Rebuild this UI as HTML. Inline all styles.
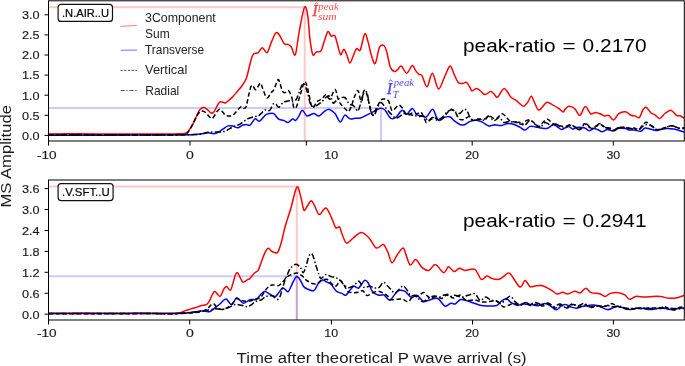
<!DOCTYPE html>
<html><head><meta charset="utf-8"><style>
html,body{margin:0;padding:0;background:#fff;}
svg{display:block;-webkit-font-smoothing:antialiased;font-family:"Liberation Sans", sans-serif;}
</style></head><body>
<svg style="opacity:0.999" width="685" height="366" viewBox="0 0 685 366">
<rect width="685" height="366" fill="#fff"/>
<clipPath id="c1"><rect x="48.5" y="0.8" width="635.8" height="140.2"/></clipPath>
<g clip-path="url(#c1)">
<path d="M48.5,7.2H304.7V141.0" fill="none" stroke="#ffc8c8" stroke-width="2"/>
<path d="M48.5,107.9H381.0V141.0" fill="none" stroke="#ccccff" stroke-width="2" style="mix-blend-mode:multiply"/>
<path d="M48.5,134.0C53.8,134.0 69.8,133.8 80.0,133.8C90.2,133.8 100.0,134.1 110.0,134.1C120.0,134.1 130.0,133.9 140.0,133.9C150.0,133.9 163.3,134.0 170.0,134.0C176.7,134.0 177.7,133.8 180.0,133.7C182.3,133.6 182.9,133.6 184.0,133.4C185.1,133.2 185.6,133.3 186.4,132.8C187.2,132.3 187.8,131.7 188.7,130.6C189.6,129.5 190.6,127.6 191.6,126.0C192.6,124.4 193.4,122.9 194.5,120.8C195.6,118.7 197.0,115.2 197.9,113.3C198.8,111.4 199.2,110.3 200.2,109.3C201.1,108.3 202.4,107.4 203.6,107.4C204.8,107.4 206.0,108.5 207.1,109.3C208.2,110.1 209.2,111.5 210.0,112.2C210.8,112.9 211.4,113.5 212.2,113.3C212.9,113.1 213.6,112.4 214.5,111.1C215.4,109.8 216.5,106.8 217.4,105.3C218.3,103.8 218.8,102.6 219.7,102.1C220.6,101.6 221.6,101.9 222.6,102.1C223.6,102.2 224.3,103.3 225.4,103.0C226.5,102.7 227.6,101.3 228.9,100.2C230.2,99.1 231.7,97.9 233.0,96.5C234.3,95.1 235.4,93.7 237.0,91.8C238.6,89.9 240.8,87.5 242.4,85.2C244.0,82.9 245.1,81.5 246.4,78.0C247.7,74.5 248.9,67.9 250.0,64.0C251.1,60.1 251.9,56.5 253.0,54.7C254.1,52.9 255.4,53.6 256.3,53.2C257.2,52.8 257.5,53.4 258.5,52.5C259.5,51.6 260.9,47.7 262.4,47.7C263.8,47.7 265.7,53.5 267.2,52.5C268.7,51.5 270.1,44.9 271.6,41.6C273.1,38.3 274.7,33.9 276.0,32.8C277.3,31.7 277.9,33.2 279.3,35.0C280.7,36.8 282.9,42.2 284.3,43.8C285.8,45.4 286.8,43.9 288.0,44.4C289.2,44.9 290.1,45.3 291.3,47.0C292.5,48.7 294.0,57.1 295.3,54.7C296.6,52.3 297.5,40.7 299.0,32.8C300.5,24.9 302.9,10.4 304.4,7.5C305.8,4.6 306.8,10.0 307.7,15.3C308.6,20.6 309.1,32.8 310.0,39.4C310.9,46.0 311.7,52.6 312.8,54.7C313.9,56.8 315.1,52.5 316.5,51.9C317.9,51.3 319.6,52.7 320.9,51.0C322.2,49.3 323.0,44.8 324.2,41.6C325.4,38.4 326.7,32.6 327.9,31.7C329.1,30.8 330.1,35.5 331.2,36.1C332.3,36.7 333.7,34.2 334.7,35.5C335.7,36.8 336.3,40.6 337.3,43.8C338.3,47.0 339.5,53.8 340.6,54.7C341.7,55.6 342.8,49.1 343.9,49.3C345.0,49.5 346.1,53.5 347.1,55.8C348.1,58.1 348.9,63.2 350.0,63.0C351.1,62.8 352.6,57.1 353.7,54.7C354.8,52.3 355.5,49.4 356.6,48.6C357.7,47.8 359.0,52.4 360.3,49.9C361.6,47.4 363.4,35.3 364.7,33.9C366.0,32.5 366.9,38.1 368.0,41.6C369.1,45.1 370.0,51.1 371.2,54.7C372.4,58.4 373.8,64.7 375.2,63.5C376.6,62.3 378.0,50.4 379.4,47.4C380.8,44.4 382.1,44.7 383.3,45.2C384.5,45.8 385.2,47.1 386.4,50.7C387.6,54.4 389.0,63.6 390.3,67.1C391.6,70.6 393.0,71.1 394.3,71.5C395.6,71.9 396.8,70.2 398.0,69.3C399.2,68.4 399.9,65.3 401.3,66.0C402.8,66.7 404.9,73.3 406.7,73.2C408.5,73.1 410.7,66.0 412.2,65.5C413.7,65.0 414.4,68.9 415.5,70.4C416.6,71.9 417.7,73.4 418.8,74.3C419.9,75.2 420.7,73.7 422.1,75.8C423.5,77.9 425.4,87.2 427.1,86.8C428.8,86.4 430.5,72.8 432.4,73.2C434.3,73.6 436.4,88.6 438.5,89.0C440.6,89.4 443.1,79.6 445.0,75.8C446.9,72.0 448.6,66.4 450.1,66.0C451.6,65.6 452.5,70.9 453.8,73.6C455.1,76.3 456.7,80.8 458.2,82.4C459.7,84.1 461.2,83.5 462.6,83.5C464.0,83.5 465.3,81.7 466.5,82.4C467.7,83.1 469.1,86.1 470.0,87.5C470.9,88.9 471.0,90.8 472.0,91.0C473.0,91.2 474.8,88.5 476.1,88.4C477.4,88.3 478.5,89.5 480.0,90.5C481.5,91.5 483.2,94.4 485.0,94.6C486.8,94.8 489.0,91.7 490.5,91.6C492.0,91.5 492.9,93.0 494.0,94.0C495.1,95.0 496.1,97.6 497.3,97.3C498.5,97.0 499.9,93.5 501.0,92.0C502.1,90.5 503.1,88.4 504.2,88.4C505.3,88.4 506.4,90.5 507.5,92.0C508.6,93.5 509.5,95.8 511.0,97.3C512.5,98.8 514.4,99.2 516.4,100.7C518.4,102.2 521.4,106.0 523.3,106.2C525.2,106.4 526.7,103.4 528.0,101.7C529.3,100.0 530.2,96.1 531.3,96.3C532.4,96.5 533.4,100.5 534.6,102.8C535.8,105.1 537.0,109.3 538.3,110.0C539.6,110.7 540.8,108.5 542.2,107.2C543.6,105.9 545.0,102.8 546.6,102.4C548.2,102.0 550.1,103.6 552.1,104.6C554.1,105.6 556.8,107.1 558.6,108.3C560.4,109.5 561.9,111.8 563.0,112.0C564.1,112.2 564.0,110.4 565.0,109.4C566.0,108.5 567.1,106.4 568.8,106.3C570.4,106.2 573.1,107.3 574.9,108.8C576.7,110.3 578.1,115.8 579.8,115.4C581.5,115.0 583.5,106.9 585.3,106.6C587.1,106.3 589.0,112.8 590.7,113.8C592.4,114.8 594.0,112.3 595.7,112.4C597.4,112.5 599.6,113.7 601.1,114.3C602.6,114.9 603.7,115.8 605.0,116.0C606.3,116.2 607.3,114.7 608.8,115.4C610.2,116.1 612.0,120.3 613.7,120.0C615.4,119.7 616.8,115.0 618.8,113.6C620.8,112.2 623.4,111.5 625.5,111.8C627.6,112.1 629.5,114.6 631.2,115.3C632.9,116.0 634.1,115.7 635.5,116.1C636.9,116.5 638.1,118.6 639.3,117.6C640.5,116.6 641.7,111.7 642.8,110.0C643.9,108.3 644.6,106.7 646.0,107.2C647.4,107.7 649.6,111.7 651.1,113.0C652.6,114.3 653.5,113.9 654.9,114.8C656.3,115.7 658.0,118.8 659.8,118.5C661.6,118.2 663.6,114.3 665.5,113.0C667.4,111.7 669.5,110.0 671.3,110.4C673.1,110.8 675.0,114.4 676.5,115.3C678.0,116.2 678.8,115.3 680.1,115.8C681.4,116.3 683.8,118.0 684.5,118.5" fill="none" stroke="#ff0000" stroke-width="1.5" stroke-linejoin="round"/>
<path d="M48.5,135.2C57.1,135.2 83.1,135.2 100.0,135.2C116.9,135.2 134.2,135.2 150.0,135.1C165.8,135.0 185.4,135.0 195.0,134.6C204.6,134.2 204.7,132.9 207.8,132.8C210.9,132.7 211.9,134.0 213.8,133.8C215.7,133.7 217.4,132.8 219.0,131.9C220.6,131.0 222.1,129.6 223.6,128.6C225.1,127.6 226.5,126.4 228.0,125.9C229.5,125.5 231.0,125.6 232.6,125.9C234.2,126.2 236.2,127.9 237.8,127.8C239.4,127.7 240.9,125.9 242.3,125.3C243.7,124.7 244.8,124.4 246.1,124.4C247.4,124.4 248.5,126.1 250.0,125.2C251.5,124.3 253.4,119.6 255.0,118.9C256.6,118.2 257.7,121.8 259.5,121.1C261.3,120.4 264.0,116.0 265.6,114.8C267.2,113.5 267.6,113.8 269.0,113.6C270.4,113.4 272.2,112.7 273.8,113.6C275.4,114.5 276.7,117.8 278.3,118.9C279.9,120.0 282.0,119.8 283.6,120.4C285.2,121.0 286.6,122.8 288.1,122.6C289.6,122.3 291.4,119.2 292.6,118.9C293.8,118.6 294.5,120.9 295.5,120.5C296.5,120.1 297.5,118.3 298.6,116.6C299.8,114.9 301.0,110.4 302.4,110.3C303.8,110.2 305.0,115.4 306.9,115.9C308.8,116.5 311.7,113.6 313.7,113.6C315.7,113.6 317.2,116.3 319.0,115.9C320.8,115.5 322.8,112.5 324.5,111.4C326.2,110.3 327.8,109.0 329.5,109.4C331.2,109.8 333.2,111.5 335.0,113.6C336.8,115.7 338.7,121.7 340.3,121.9C341.9,122.2 343.2,115.6 344.8,115.1C346.4,114.6 348.3,118.4 350.0,118.9C351.7,119.4 353.2,118.4 355.0,118.3C356.8,118.2 358.7,118.6 360.6,118.1C362.5,117.6 364.6,116.1 366.6,115.1C368.6,114.1 370.3,113.2 372.6,112.1C374.9,111.0 378.2,108.7 380.2,108.3C382.2,107.9 382.9,108.2 384.7,109.8C386.4,111.4 388.8,116.8 390.7,118.1C392.6,119.4 394.0,118.7 395.9,117.4C397.8,116.1 400.2,110.8 402.0,110.3C403.8,109.8 404.8,114.7 406.5,114.4C408.2,114.1 410.6,108.6 412.3,108.6C414.0,108.6 415.2,113.3 416.8,114.6C418.4,115.8 420.4,115.7 422.0,116.1C423.6,116.5 424.7,117.9 426.5,116.8C428.3,115.7 431.0,109.3 432.6,109.3C434.2,109.3 435.2,114.9 436.3,116.8C437.4,118.7 438.1,120.5 439.3,120.6C440.6,120.7 442.1,118.2 443.8,117.6C445.6,117.0 447.9,116.2 449.8,116.8C451.7,117.4 453.0,120.0 455.1,121.4C457.2,122.8 460.1,125.1 462.6,125.1C465.1,125.1 467.9,122.2 470.2,121.4C472.5,120.6 474.2,120.2 476.2,120.3C478.2,120.4 480.1,121.2 482.2,122.1C484.3,123.0 486.8,125.5 488.9,125.9C491.0,126.3 493.1,124.8 495.0,124.7C496.9,124.7 498.3,125.8 500.5,125.6C502.7,125.4 505.8,123.8 508.1,123.6C510.4,123.4 512.2,123.9 514.2,124.5C516.2,125.1 518.4,126.5 520.2,127.4C522.0,128.3 523.5,130.2 525.1,130.0C526.7,129.8 528.3,126.9 530.0,126.4C531.7,125.9 533.7,126.6 535.5,126.9C537.3,127.2 539.0,127.8 541.0,128.0C543.0,128.2 545.6,128.8 547.6,128.2C549.6,127.6 551.4,125.0 553.0,124.7C554.6,124.4 555.5,125.7 557.0,126.5C558.5,127.3 559.9,129.6 561.8,129.6C563.7,129.6 566.5,126.5 568.3,126.4C570.1,126.3 571.2,128.9 572.7,129.1C574.2,129.3 575.0,127.6 577.0,127.4C579.0,127.2 582.7,127.5 584.7,128.0C586.7,128.6 587.6,130.6 589.1,130.7C590.6,130.8 592.5,128.7 594.0,128.5C595.5,128.3 596.6,129.2 598.0,129.8C599.4,130.4 600.7,131.8 602.2,131.8C603.7,131.8 605.6,129.8 607.2,129.6C608.9,129.4 610.4,130.9 612.1,130.7C613.8,130.5 616.1,128.9 617.6,128.5C619.1,128.1 619.5,128.2 621.0,128.2C622.5,128.2 625.0,128.2 626.3,128.5C627.6,128.8 627.3,129.8 628.6,130.0C629.9,130.2 632.0,129.8 634.0,130.0C636.0,130.2 638.9,131.6 640.7,131.3C642.5,131.0 643.5,128.4 645.0,128.0C646.5,127.6 648.2,128.6 650.0,129.0C651.8,129.4 654.2,130.3 656.0,130.4C657.8,130.5 659.2,129.8 661.0,129.5C662.8,129.2 664.8,128.6 666.9,128.5C669.0,128.4 671.3,128.7 673.5,129.1C675.7,129.5 678.2,130.2 680.0,130.7C681.8,131.2 683.8,131.9 684.5,132.2" fill="none" stroke="#0000ff" stroke-width="1.5" stroke-linejoin="round"/>
<path d="M48.5,134.9C57.1,134.9 83.1,134.8 100.0,134.8C116.9,134.8 136.0,134.9 150.0,134.9C164.0,134.9 177.9,134.7 184.0,134.6C190.1,134.5 185.4,135.1 186.4,134.2C187.4,133.3 188.8,131.2 189.9,129.4C191.1,127.6 192.2,125.4 193.3,123.1C194.5,120.8 195.7,117.5 196.8,115.6C198.0,113.7 199.2,112.3 200.2,111.6C201.1,110.8 201.6,110.9 202.5,111.1C203.4,111.3 204.8,111.8 205.9,112.8C207.1,113.8 208.4,115.8 209.4,116.8C210.4,117.8 211.3,118.8 212.2,118.5C213.1,118.2 214.1,116.2 215.0,115.0C215.9,113.8 216.6,112.0 217.4,111.1C218.2,110.1 218.8,109.1 219.7,109.3C220.6,109.5 221.6,111.0 222.6,112.0C223.6,113.0 224.3,114.4 225.4,115.1C226.5,115.8 227.7,115.9 229.0,115.9C230.3,115.9 231.0,116.6 233.0,115.1C235.0,113.6 239.0,107.9 240.8,106.8C242.6,105.7 242.9,108.3 243.8,108.3C244.7,108.3 245.3,108.8 246.1,106.7C246.9,104.7 247.7,99.4 248.5,96.0C249.3,92.6 250.2,88.2 251.0,86.5C251.8,84.8 252.2,85.5 253.0,86.0C253.8,86.5 254.7,90.2 255.9,89.7C257.1,89.2 259.2,83.5 260.3,83.2C261.4,82.9 261.4,85.5 262.5,88.0C263.6,90.5 265.4,97.2 266.8,97.9C268.2,98.7 270.0,93.9 271.2,92.5C272.4,91.1 272.8,91.8 273.9,89.7C275.0,87.6 276.9,81.2 277.8,79.9C278.7,78.6 278.7,80.1 279.5,82.0C280.3,83.9 281.7,89.7 282.7,91.4C283.7,93.2 284.5,92.6 285.5,92.5C286.5,92.4 287.6,89.9 288.7,90.8C289.8,91.7 291.1,95.2 291.9,97.9C292.7,100.6 292.9,105.1 293.6,106.7C294.3,108.3 295.1,109.2 296.2,107.3C297.3,105.3 298.8,99.3 300.2,95.0C301.6,90.7 303.4,82.5 304.7,81.7C306.0,80.9 306.8,85.7 308.0,90.0C309.2,94.3 310.8,105.6 312.2,107.6C313.6,109.6 315.2,103.3 316.5,102.0C317.8,100.7 318.8,100.8 320.0,100.0C321.2,99.2 322.5,98.0 323.5,97.1C324.5,96.2 324.9,94.5 326.0,94.8C327.1,95.1 328.5,99.9 330.0,99.0C331.5,98.1 333.6,89.4 335.0,89.5C336.4,89.6 337.2,97.1 338.3,99.7C339.4,102.3 340.3,103.5 341.6,105.1C342.9,106.7 344.7,108.4 345.9,109.5C347.1,110.6 347.7,112.1 348.6,111.5C349.5,110.9 350.6,108.2 351.5,106.0C352.4,103.8 352.9,100.6 354.0,98.0C355.1,95.4 356.8,90.2 357.9,90.4C358.9,90.6 359.6,97.2 360.3,99.0C361.0,100.8 361.2,102.2 361.8,101.0C362.4,99.8 362.9,93.1 363.6,91.5C364.3,89.9 365.1,89.6 366.0,91.5C366.9,93.4 367.9,99.0 369.0,103.0C370.1,107.0 371.5,114.7 372.7,115.5C373.9,116.3 375.0,110.5 376.4,108.0C377.8,105.5 379.6,101.7 380.9,100.2C382.2,98.7 382.8,98.9 384.0,99.0C385.2,99.1 387.0,98.9 388.4,100.8C389.8,102.7 390.6,109.8 392.2,110.6C393.8,111.3 396.6,105.8 398.2,105.3C399.8,104.8 400.5,106.0 402.0,107.6C403.5,109.2 405.5,114.2 407.2,115.1C408.9,116.0 410.4,113.2 412.0,113.0C413.6,112.8 415.5,114.1 417.0,114.0C418.5,113.9 419.7,111.2 421.1,112.3C422.5,113.4 424.3,118.7 425.2,120.4C426.1,122.1 425.7,122.6 426.5,122.5C427.3,122.4 428.5,120.8 430.0,120.0C431.5,119.2 433.8,117.8 435.4,117.9C437.0,118.0 438.0,120.7 439.5,120.4C441.0,120.2 443.2,117.8 444.6,116.4C446.0,115.1 446.5,113.5 447.7,112.3C448.9,111.1 450.4,109.0 451.8,109.2C453.2,109.4 454.7,111.7 455.9,113.3C457.1,114.9 457.6,117.9 459.0,118.9C460.4,119.9 462.3,119.8 464.0,119.4C465.7,119.0 467.8,116.2 469.2,116.4C470.6,116.6 471.1,120.0 472.5,120.4C473.9,120.8 475.4,119.1 477.3,118.9C479.2,118.7 481.9,119.9 484.0,119.4C486.1,118.9 487.8,116.2 489.7,116.1C491.6,116.0 493.6,119.4 495.7,119.0C497.8,118.6 500.2,114.0 502.1,113.8C504.0,113.6 505.5,116.8 507.0,118.1C508.5,119.4 509.4,120.8 510.9,121.4C512.4,122.1 514.3,121.5 516.0,122.0C517.7,122.5 519.7,124.4 521.3,124.2C522.9,124.0 524.2,121.6 525.7,120.9C527.2,120.2 528.5,119.4 530.0,119.8C531.5,120.2 532.9,121.9 534.4,123.1C535.9,124.3 537.3,127.1 538.8,126.9C540.3,126.7 541.7,123.3 543.2,122.0C544.7,120.7 546.1,119.0 547.6,119.2C549.1,119.4 550.6,122.2 552.0,123.1C553.4,124.0 554.7,124.0 556.0,124.5C557.3,125.0 558.5,125.7 560.0,126.0C561.5,126.3 563.2,126.7 565.0,126.5C566.8,126.3 568.8,124.6 570.5,124.7C572.2,124.8 573.4,126.2 575.0,127.0C576.6,127.8 578.8,130.1 580.3,129.6C581.8,129.1 582.9,124.3 584.2,123.8C585.5,123.3 586.6,125.6 588.0,126.4C589.4,127.2 590.9,128.6 592.4,128.5C593.9,128.4 595.3,126.4 596.8,125.8C598.2,125.2 599.6,124.3 601.1,124.7C602.6,125.1 604.4,127.3 606.0,128.0C607.6,128.7 609.6,128.7 611.0,129.1C612.4,129.5 613.0,130.9 614.3,130.7C615.6,130.5 617.2,128.6 618.8,128.0C620.4,127.4 622.5,126.8 624.1,126.9C625.7,127.0 627.0,128.3 628.6,128.5C630.2,128.7 632.3,127.8 634.0,128.0C635.7,128.2 637.6,130.0 639.0,129.6C640.4,129.2 641.1,126.5 642.3,125.3C643.5,124.1 644.9,122.5 646.1,122.3C647.3,122.1 648.3,123.4 649.4,124.2C650.5,125.0 651.4,126.0 652.7,126.9C654.0,127.8 655.6,129.3 657.1,129.6C658.6,129.9 660.4,128.9 662.0,128.5C663.6,128.1 665.4,127.4 666.9,126.9C668.4,126.5 669.8,125.8 671.3,125.8C672.8,125.8 674.2,126.5 675.7,126.9C677.2,127.4 678.5,128.4 680.0,128.5C681.5,128.6 683.8,127.6 684.5,127.4" fill="none" stroke="#000" stroke-width="1.5" stroke-dasharray="4.5,2.5" stroke-linejoin="round"/>
<path d="M48.5,135.0C57.1,135.0 83.1,135.1 100.0,135.1C116.9,135.1 134.2,135.1 150.0,135.0C165.8,134.9 185.2,135.0 195.0,134.6C204.8,134.2 203.7,132.8 208.5,132.3C213.3,131.8 219.6,132.5 223.6,131.6C227.6,130.7 229.9,128.3 232.6,127.1C235.3,125.8 237.5,125.5 240.0,124.1C242.5,122.7 245.0,120.2 247.5,118.9C250.0,117.6 253.2,117.0 255.0,116.5C256.8,116.0 257.4,116.3 258.5,115.8C259.6,115.2 260.4,114.2 261.4,113.2C262.4,112.2 263.7,110.4 264.7,110.0C265.7,109.6 266.5,110.8 267.4,110.8C268.3,110.8 269.1,111.2 270.1,110.0C271.1,108.8 272.4,104.9 273.4,103.9C274.4,102.9 275.1,103.7 276.0,104.2C276.9,104.8 277.6,107.5 278.8,107.2C280.0,106.9 281.8,103.3 283.2,102.3C284.6,101.3 285.9,101.5 287.0,101.2C288.1,100.9 289.0,100.6 289.8,100.7C290.6,100.8 290.9,101.8 291.8,101.8C292.7,101.8 294.1,101.7 295.0,101.0C295.9,100.3 295.7,100.7 297.1,97.8C298.5,94.9 301.4,84.2 303.2,83.5C305.0,82.8 306.4,89.8 307.7,93.3C308.9,96.8 309.4,102.5 310.7,104.6C311.9,106.7 313.4,106.5 315.2,106.1C316.9,105.7 319.2,103.9 321.2,102.3C323.2,100.7 325.6,97.2 327.2,96.3C328.8,95.4 329.5,95.9 330.5,97.0C331.5,98.1 332.4,102.3 333.2,103.1C333.9,103.9 334.0,102.5 335.0,101.8C336.0,101.0 337.8,99.3 339.4,98.6C341.0,97.9 343.2,96.6 344.8,97.5C346.4,98.4 347.9,102.8 349.2,104.0C350.5,105.2 351.4,104.3 352.5,105.0C353.6,105.7 354.6,107.0 355.5,108.0C356.4,109.0 357.1,111.8 357.9,111.1C358.7,110.4 359.6,106.7 360.5,104.0C361.4,101.3 362.0,97.0 363.0,95.0C364.0,93.0 365.8,91.2 366.7,92.0C367.6,92.8 367.8,96.7 368.5,100.0C369.2,103.3 370.0,109.2 371.0,111.7C372.0,114.2 373.2,115.7 374.3,115.0C375.4,114.3 376.5,109.4 377.6,107.3C378.7,105.2 379.7,102.6 380.9,102.5C382.1,102.4 383.1,104.7 384.7,106.5C386.3,108.3 388.7,111.7 390.7,113.6C392.7,115.5 394.4,118.1 396.7,118.1C398.9,118.1 401.7,114.1 404.2,113.6C406.7,113.1 409.9,114.7 411.7,115.1C413.5,115.5 413.8,115.6 415.0,115.8C416.2,116.0 417.6,116.3 419.1,116.4C420.6,116.5 422.7,115.7 424.2,116.4C425.7,117.1 426.9,120.2 428.3,120.4C429.7,120.6 431.0,117.5 432.4,117.4C433.8,117.3 435.0,119.8 436.5,119.9C438.0,120.0 439.9,119.2 441.6,117.9C443.3,116.6 445.0,113.7 446.7,112.3C448.4,110.9 450.3,109.7 451.8,109.7C453.3,109.7 454.5,111.7 455.9,112.3C457.3,112.9 458.6,113.8 460.0,113.3C461.4,112.8 462.8,109.5 464.0,109.2C465.2,108.9 466.1,109.8 467.1,111.2C468.1,112.6 469.0,115.9 470.2,117.4C471.4,118.9 472.6,120.2 474.3,120.4C476.0,120.7 478.6,118.9 480.4,118.9C482.2,118.9 483.7,120.9 485.0,120.4C486.3,119.9 486.7,116.1 488.2,116.1C489.7,116.1 492.3,120.3 494.2,120.6C496.1,120.8 497.8,117.3 499.4,117.6C501.0,117.9 502.2,121.9 503.8,122.5C505.4,123.1 507.2,121.4 509.0,121.4C510.8,121.4 512.8,122.3 514.7,122.5C516.6,122.7 518.6,122.0 520.2,122.5C521.9,123.0 523.0,125.7 524.6,125.3C526.2,124.9 528.2,120.4 530.0,120.3C531.8,120.2 533.7,123.7 535.5,124.7C537.3,125.7 539.4,126.8 541.0,126.4C542.6,126.0 543.8,122.7 545.4,122.5C547.0,122.3 549.0,125.0 550.8,125.3C552.6,125.6 554.6,123.9 556.3,124.2C557.9,124.5 559.2,126.3 560.7,126.9C562.2,127.5 563.5,128.3 565.0,128.0C566.5,127.7 567.9,125.6 569.4,125.3C570.9,125.0 572.2,125.7 573.8,126.4C575.4,127.1 577.7,129.7 579.2,129.6C580.7,129.5 581.7,126.7 583.0,125.8C584.3,124.9 585.5,123.8 586.9,124.2C588.3,124.7 589.8,128.1 591.3,128.5C592.8,128.9 594.2,127.2 595.7,126.4C597.2,125.6 598.5,123.4 600.0,123.6C601.5,123.8 602.8,126.7 604.4,127.4C606.0,128.1 608.4,127.5 609.9,128.0C611.4,128.6 611.9,130.7 613.2,130.7C614.5,130.7 616.0,128.6 617.6,128.0C619.2,127.5 621.3,127.4 623.1,127.4C624.9,127.4 626.8,127.7 628.6,128.0C630.4,128.3 632.2,128.9 634.0,129.1C635.8,129.3 638.0,129.7 639.6,129.1C641.2,128.5 642.5,126.0 643.9,125.3C645.3,124.6 646.8,124.5 648.3,124.7C649.8,124.9 651.4,125.6 652.7,126.4C654.0,127.2 654.5,129.2 656.0,129.6C657.5,130.0 659.7,129.5 661.5,129.1C663.3,128.7 665.1,127.5 666.9,126.9C668.7,126.4 670.6,125.6 672.4,125.8C674.2,126.0 675.9,127.5 677.9,128.0C679.9,128.4 683.4,128.4 684.5,128.5" fill="none" stroke="#000" stroke-width="1.5" stroke-dasharray="6,2.2,1.5,2.2" stroke-linejoin="round"/>
</g>
<rect x="48.5" y="0.8" width="635.8" height="140.2" fill="none" stroke="#000" stroke-width="1"/>
<line x1="44.5" y1="135.4" x2="48.5" y2="135.4" stroke="#000" stroke-width="1"/>
<text x="39.6" y="139.7" font-size="11.6" text-anchor="end" fill="#1a1a1a" textLength="17.6" lengthAdjust="spacingAndGlyphs" stroke="#1a1a1a" stroke-width="0.15">0.0</text>
<line x1="44.5" y1="115.3" x2="48.5" y2="115.3" stroke="#000" stroke-width="1"/>
<text x="39.6" y="119.6" font-size="11.6" text-anchor="end" fill="#1a1a1a" textLength="17.6" lengthAdjust="spacingAndGlyphs" stroke="#1a1a1a" stroke-width="0.15">0.5</text>
<line x1="44.5" y1="95.2" x2="48.5" y2="95.2" stroke="#000" stroke-width="1"/>
<text x="39.6" y="99.5" font-size="11.6" text-anchor="end" fill="#1a1a1a" textLength="17.6" lengthAdjust="spacingAndGlyphs" stroke="#1a1a1a" stroke-width="0.15">1.0</text>
<line x1="44.5" y1="75.1" x2="48.5" y2="75.1" stroke="#000" stroke-width="1"/>
<text x="39.6" y="79.4" font-size="11.6" text-anchor="end" fill="#1a1a1a" textLength="17.6" lengthAdjust="spacingAndGlyphs" stroke="#1a1a1a" stroke-width="0.15">1.5</text>
<line x1="44.5" y1="55.0" x2="48.5" y2="55.0" stroke="#000" stroke-width="1"/>
<text x="39.6" y="59.3" font-size="11.6" text-anchor="end" fill="#1a1a1a" textLength="17.6" lengthAdjust="spacingAndGlyphs" stroke="#1a1a1a" stroke-width="0.15">2.0</text>
<line x1="44.5" y1="34.9" x2="48.5" y2="34.9" stroke="#000" stroke-width="1"/>
<text x="39.6" y="39.2" font-size="11.6" text-anchor="end" fill="#1a1a1a" textLength="17.6" lengthAdjust="spacingAndGlyphs" stroke="#1a1a1a" stroke-width="0.15">2.5</text>
<line x1="44.5" y1="14.8" x2="48.5" y2="14.8" stroke="#000" stroke-width="1"/>
<text x="39.6" y="19.1" font-size="11.6" text-anchor="end" fill="#1a1a1a" textLength="17.6" lengthAdjust="spacingAndGlyphs" stroke="#1a1a1a" stroke-width="0.15">3.0</text>
<line x1="48.5" y1="141.0" x2="48.5" y2="145.5" stroke="#000" stroke-width="1"/>
<line x1="190.0" y1="141.0" x2="190.0" y2="145.5" stroke="#000" stroke-width="1"/>
<line x1="306.4" y1="141.0" x2="306.4" y2="145.5" stroke="#000" stroke-width="1"/>
<line x1="472.2" y1="141.0" x2="472.2" y2="145.5" stroke="#000" stroke-width="1"/>
<line x1="613.3" y1="141.0" x2="613.3" y2="145.5" stroke="#000" stroke-width="1"/>
<text x="46.8" y="158.6" font-size="11.6" text-anchor="middle" fill="#1a1a1a" textLength="19.6" lengthAdjust="spacingAndGlyphs" stroke="#1a1a1a" stroke-width="0.15">-10</text>
<text x="189.9" y="158.6" font-size="11.6" text-anchor="middle" fill="#1a1a1a" textLength="7.8" lengthAdjust="spacingAndGlyphs" stroke="#1a1a1a" stroke-width="0.15">0</text>
<text x="331.2" y="158.6" font-size="11.6" text-anchor="middle" fill="#1a1a1a" textLength="13.8" lengthAdjust="spacingAndGlyphs" stroke="#1a1a1a" stroke-width="0.15">10</text>
<text x="472.1" y="158.6" font-size="11.6" text-anchor="middle" fill="#1a1a1a" textLength="13.8" lengthAdjust="spacingAndGlyphs" stroke="#1a1a1a" stroke-width="0.15">20</text>
<text x="613.3" y="158.6" font-size="11.6" text-anchor="middle" fill="#1a1a1a" textLength="13.8" lengthAdjust="spacingAndGlyphs" stroke="#1a1a1a" stroke-width="0.15">30</text>
<rect x="58.1" y="4.4" width="54.4" height="17" rx="3" ry="3" fill="#fff" stroke="#111" stroke-width="1.2"/>
<text x="62.0" y="16.7" font-size="11.5" text-anchor="start" fill="#000" textLength="47.0" lengthAdjust="spacingAndGlyphs" stroke="#000" stroke-width="0.2">.N.AIR..U</text>
<text x="463.0" y="52.4" font-size="18.7" text-anchor="start" fill="#000" textLength="92.5" lengthAdjust="spacingAndGlyphs">peak-ratio</text>
<text x="562.6" y="52.4" font-size="18.7" text-anchor="start" fill="#000" textLength="13.2" lengthAdjust="spacingAndGlyphs">=</text>
<text x="582.6" y="52.4" font-size="18.7" text-anchor="start" fill="#000" textLength="64.0" lengthAdjust="spacingAndGlyphs">0.2170</text>
<clipPath id="c2"><rect x="48.5" y="180.0" width="635.8" height="140.0"/></clipPath>
<g clip-path="url(#c2)">
<path d="M48.5,186.5H296.8V320.0" fill="none" stroke="#ffc8c8" stroke-width="2"/>
<path d="M48.5,276.3H296.8V320.0" fill="none" stroke="#ccccff" stroke-width="2" style="mix-blend-mode:multiply"/>
<path d="M48.5,313.2C53.8,313.2 69.8,313.1 80.0,313.1C90.2,313.1 100.0,313.3 110.0,313.3C120.0,313.3 130.0,313.1 140.0,313.1C150.0,313.1 163.3,313.2 170.0,313.2C176.7,313.1 177.4,313.2 180.0,312.8C182.6,312.4 183.7,311.2 185.5,310.6C187.3,310.0 189.4,309.4 191.0,308.9C192.6,308.4 193.7,308.3 195.3,307.8C196.9,307.3 199.0,306.2 200.8,305.7C202.6,305.2 204.8,305.4 206.3,304.6C207.8,303.8 208.6,302.4 209.6,300.7C210.6,299.0 211.4,296.2 212.3,294.7C213.2,293.2 213.7,291.3 215.0,291.6C216.3,291.9 218.5,296.8 220.0,296.4C221.5,296.0 222.7,290.8 223.8,289.2C224.9,287.6 225.4,286.3 226.5,286.5C227.6,286.7 229.3,290.9 230.4,290.3C231.5,289.7 232.2,285.3 233.1,282.7C233.9,280.1 234.8,276.1 235.5,274.5C236.2,272.9 236.8,272.5 237.5,272.8C238.2,273.1 238.6,274.6 239.5,276.1C240.4,277.7 241.6,281.6 243.0,282.1C244.4,282.7 246.7,280.0 247.9,279.4C249.1,278.8 248.9,279.6 250.0,278.5C251.1,277.4 253.0,274.4 254.4,273.0C255.8,271.6 257.1,271.9 258.2,270.3C259.3,268.7 259.9,265.8 260.9,263.1C261.9,260.5 263.3,256.6 264.2,254.4C265.1,252.2 265.6,251.0 266.4,250.0C267.1,249.0 267.9,248.1 268.7,248.3C269.5,248.5 270.4,250.4 271.4,251.1C272.4,251.8 273.4,252.3 274.5,252.5C275.6,252.7 276.6,253.8 277.7,252.3C278.8,250.8 279.7,247.9 281.0,243.5C282.3,239.1 283.7,231.8 285.3,226.0C286.9,220.2 288.9,215.0 290.8,208.5C292.7,202.0 295.2,189.0 296.9,187.0C298.5,185.0 299.5,192.6 300.7,196.4C301.9,200.2 302.8,208.3 303.9,210.0C305.0,211.7 306.0,207.8 307.2,206.3C308.4,204.8 309.9,200.8 311.2,200.8C312.5,200.8 313.5,204.0 314.9,206.3C316.2,208.6 317.5,214.3 319.3,214.6C321.1,214.9 323.8,207.6 325.8,208.0C327.8,208.4 329.7,213.9 331.3,217.2C332.9,220.5 334.3,226.0 335.7,227.7C337.1,229.3 338.5,225.9 339.6,227.1C340.7,228.3 341.1,232.0 342.3,234.7C343.5,237.4 344.8,242.5 346.6,243.1C348.4,243.7 350.7,239.8 353.2,238.0C355.7,236.2 358.8,232.5 361.5,232.6C364.2,232.7 367.2,236.1 369.6,238.7C372.1,241.2 374.0,246.9 376.2,247.9C378.4,248.9 381.3,244.8 382.8,244.6C384.3,244.3 384.1,245.1 385.0,246.4C385.9,247.7 386.8,249.8 388.0,252.5C389.2,255.2 390.5,262.4 392.0,262.8C393.5,263.2 395.2,257.7 397.0,255.2C398.8,252.7 401.5,248.2 403.0,248.0C404.5,247.8 404.6,251.3 405.8,254.1C407.0,256.9 408.6,264.1 410.2,265.0C411.8,265.9 413.7,259.2 415.7,259.6C417.7,260.1 420.0,265.9 422.2,267.7C424.4,269.5 426.6,271.0 428.8,270.5C431.0,270.0 432.9,264.2 435.4,264.6C437.9,265.0 441.5,272.3 443.7,272.7C445.9,273.1 446.8,267.0 448.5,266.8C450.2,266.6 452.2,271.4 454.0,271.6C455.8,271.9 457.6,268.5 459.4,268.3C461.2,268.1 462.3,270.3 464.9,270.5C467.5,270.7 472.1,267.9 474.8,269.4C477.5,270.9 479.3,278.2 481.3,279.3C483.3,280.4 485.0,276.1 486.8,276.0C488.6,275.9 490.3,278.1 492.3,278.6C494.3,279.2 496.9,279.7 498.9,279.3C500.9,278.9 502.5,277.0 504.3,276.0C506.1,275.0 507.2,271.6 509.8,273.4C512.4,275.2 517.2,285.7 519.7,286.9C522.2,288.1 523.4,280.6 525.1,280.5C526.8,280.4 528.3,285.7 529.9,286.6C531.5,287.5 533.0,286.2 534.9,286.0C536.8,285.8 539.4,285.2 541.4,285.5C543.4,285.8 545.1,286.8 546.9,287.7C548.7,288.6 550.7,289.8 552.4,290.9C554.1,291.9 555.6,293.8 557.3,294.0C559.0,294.2 561.1,292.3 562.8,292.3C564.5,292.3 565.7,294.1 567.7,293.9C569.7,293.7 572.7,291.4 574.8,291.2C576.9,291.0 578.5,293.4 580.3,292.9C582.1,292.4 584.0,288.2 585.8,288.2C587.6,288.1 588.9,291.7 591.2,292.6C593.5,293.5 597.3,293.2 599.6,293.8C601.9,294.4 603.3,296.5 605.1,296.4C606.9,296.3 608.3,294.0 610.5,293.4C612.7,292.8 615.8,292.4 618.2,292.7C620.6,292.9 622.9,293.8 624.8,294.9C626.7,296.0 627.8,299.1 629.6,299.3C631.4,299.6 633.2,296.8 635.7,296.4C638.2,296.0 641.6,297.1 644.5,297.1C647.4,297.1 650.5,296.5 653.2,296.4C655.9,296.3 658.3,296.3 660.9,296.6C663.5,296.9 665.9,298.0 668.6,298.2C671.3,298.4 674.6,298.2 677.3,297.7C679.9,297.2 683.3,295.7 684.5,295.3" fill="none" stroke="#ff0000" stroke-width="1.5" stroke-linejoin="round"/>
<path d="M48.5,313.6C57.1,313.6 83.1,313.6 100.0,313.6C116.9,313.6 136.7,313.6 150.0,313.5C163.3,313.4 171.3,313.7 180.0,313.3C188.7,312.9 197.0,311.4 201.9,311.1C206.8,310.8 207.4,312.2 209.6,311.7C211.8,311.1 213.2,309.2 215.0,307.8C216.8,306.4 218.7,305.0 220.5,303.5C222.3,302.0 224.2,298.7 226.0,298.9C227.8,299.1 229.7,304.8 231.5,304.6C233.3,304.5 234.9,298.2 236.9,298.0C238.9,297.8 241.3,302.9 243.5,303.2C245.7,303.5 248.1,300.2 250.0,299.6C251.9,299.0 253.7,299.9 255.0,299.6C256.3,299.3 256.1,299.4 257.7,298.0C259.2,296.6 262.3,292.1 264.3,291.5C266.3,290.9 268.0,293.5 269.8,294.3C271.6,295.1 273.8,296.6 275.2,296.5C276.6,296.4 277.0,294.9 278.2,293.5C279.4,292.1 281.3,288.6 282.5,288.0C283.7,287.4 284.6,289.2 285.5,289.8C286.4,290.4 287.3,292.2 288.2,291.6C289.1,291.0 290.1,288.4 291.1,286.3C292.1,284.2 293.4,280.9 294.4,279.3C295.3,277.7 296.0,276.6 296.8,276.5C297.6,276.4 298.4,277.3 299.3,278.5C300.2,279.7 301.4,282.5 302.2,283.9C303.0,285.3 303.2,286.2 304.2,287.1C305.1,288.0 306.6,288.6 307.9,289.2C309.2,289.8 310.9,290.7 312.0,290.8C313.1,290.9 313.5,291.2 314.6,290.0C315.7,288.8 317.1,285.0 318.4,283.4C319.7,281.8 320.9,280.4 322.3,280.1C323.7,279.9 325.2,281.2 326.6,281.9C328.1,282.6 329.4,282.6 331.0,284.1C332.6,285.7 334.6,289.6 336.4,291.2C338.2,292.8 340.3,292.7 341.9,293.4C343.4,294.1 344.4,295.8 345.7,295.3C347.0,294.9 348.2,292.2 349.6,290.7C351.0,289.2 352.4,286.7 353.9,286.3C355.3,285.9 357.0,288.6 358.3,288.2C359.6,287.8 360.5,285.4 361.6,284.1C362.7,282.8 363.8,280.5 364.9,280.3C366.0,280.1 366.9,281.1 368.2,283.0C369.5,284.9 371.0,289.8 372.6,291.8C374.2,293.8 376.2,294.5 378.0,295.0C379.8,295.5 382.3,294.7 383.5,294.8C384.7,294.9 383.9,294.9 385.0,295.8C386.1,296.7 388.2,300.5 389.9,300.2C391.5,299.9 393.4,295.8 394.9,294.2C396.4,292.6 397.1,291.0 398.7,290.5C400.3,290.0 402.6,290.1 404.7,291.2C406.8,292.3 409.3,296.7 411.3,297.4C413.3,298.1 414.8,294.6 416.8,295.3C418.8,296.0 421.3,300.5 423.3,301.3C425.3,302.1 427.0,300.7 428.8,300.2C430.6,299.7 432.7,298.7 434.3,298.5C435.9,298.3 436.9,297.8 438.7,299.1C440.5,300.4 443.2,305.5 445.2,306.2C447.2,306.9 449.0,303.6 450.7,303.2C452.4,302.8 453.5,304.6 455.1,304.0C456.7,303.4 458.5,300.0 460.5,299.5C462.5,299.0 464.8,300.2 467.0,300.8C469.2,301.4 471.2,302.2 473.6,303.0C476.0,303.8 477.5,305.0 481.3,305.4C485.1,305.8 493.3,306.1 496.6,305.4C499.9,304.7 499.4,302.5 501.0,301.4C502.6,300.3 504.9,298.6 506.5,298.8C508.1,299.0 509.0,301.3 510.8,302.4C512.6,303.5 515.6,305.1 517.4,305.4C519.2,305.7 520.5,304.3 521.8,304.1C523.1,303.9 523.5,304.0 525.0,304.1C526.5,304.2 528.8,304.3 531.0,304.6C533.2,304.9 535.8,305.9 538.1,305.7C540.4,305.5 542.7,303.5 544.7,303.5C546.7,303.5 548.1,304.4 550.0,305.5C551.9,306.6 554.4,309.7 556.2,309.8C558.0,309.9 559.5,306.9 561.0,306.0C562.5,305.1 563.8,304.4 565.5,304.6C567.2,304.8 569.2,306.4 571.0,307.0C572.8,307.6 574.7,308.3 576.5,308.2C578.3,308.1 580.0,307.0 582.0,306.5C584.0,306.0 586.5,305.6 588.5,305.4C590.5,305.1 592.1,304.8 594.0,305.0C595.9,305.2 597.8,305.7 600.0,306.5C602.2,307.3 605.2,309.4 607.3,309.6C609.4,309.9 610.9,308.5 612.7,308.0C614.5,307.5 616.4,306.5 618.2,306.5C620.0,306.5 621.8,307.5 623.6,308.0C625.4,308.5 627.4,309.5 629.2,309.6C631.0,309.7 632.8,308.8 634.6,308.5C636.4,308.2 638.3,307.9 640.1,308.0C641.9,308.1 643.7,308.7 645.5,309.0C647.3,309.3 649.2,309.7 651.0,309.6C652.8,309.5 654.7,308.8 656.5,308.5C658.3,308.2 660.2,307.9 662.0,308.0C663.8,308.1 665.7,308.7 667.5,309.0C669.3,309.3 671.2,309.7 673.0,309.6C674.8,309.5 676.6,308.8 678.5,308.5C680.4,308.2 683.5,308.1 684.5,308.0" fill="none" stroke="#0000ff" stroke-width="1.5" stroke-linejoin="round"/>
<path d="M48.5,313.7C57.1,313.7 83.1,313.7 100.0,313.7C116.9,313.7 136.7,313.6 150.0,313.6C163.3,313.6 171.7,313.8 180.0,313.5C188.3,313.2 195.5,312.8 200.0,312.0C204.5,311.2 205.1,310.2 207.0,309.0C208.9,307.8 210.2,305.4 211.4,304.6C212.6,303.8 213.0,303.4 214.0,304.0C215.0,304.6 216.2,307.1 217.6,308.0C219.0,308.9 220.6,309.5 222.3,309.4C224.0,309.3 226.2,308.2 227.8,307.4C229.4,306.6 230.5,306.1 231.9,304.6C233.3,303.1 234.7,299.3 236.0,298.5C237.3,297.7 238.4,299.6 240.0,300.0C241.6,300.4 243.7,301.1 245.5,301.2C247.3,301.3 249.4,301.1 251.0,300.8C252.6,300.5 253.3,299.9 255.0,299.3C256.7,298.7 259.1,298.7 261.0,297.0C262.9,295.3 264.6,290.9 266.4,288.9C268.2,286.9 269.9,285.6 271.9,285.0C273.9,284.4 276.7,286.1 278.5,285.6C280.3,285.1 281.4,283.3 282.8,281.8C284.2,280.3 285.7,278.0 287.2,276.8C288.7,275.6 290.0,275.2 291.6,274.6C293.2,274.0 295.3,272.7 297.1,273.0C298.9,273.3 301.1,275.2 302.6,276.3C304.1,277.4 304.4,278.8 305.9,279.9C307.4,281.0 309.6,282.5 311.4,283.2C313.2,283.9 315.2,284.2 316.8,283.8C318.4,283.4 319.6,281.2 321.2,280.5C322.8,279.8 325.0,279.0 326.5,279.3C328.0,279.6 329.0,281.1 330.3,282.2C331.6,283.3 333.0,285.5 334.1,286.0C335.2,286.5 336.0,286.1 337.0,285.1C338.0,284.2 338.9,280.7 339.9,280.3C340.9,279.9 341.9,281.7 342.8,283.0C343.8,284.3 344.7,286.4 345.6,287.9C346.6,289.4 347.2,291.0 348.5,291.8C349.8,292.6 351.6,292.6 353.2,292.7C354.8,292.8 356.4,292.5 358.0,292.2C359.6,291.9 361.3,290.2 362.8,290.8C364.3,291.4 365.5,295.3 367.1,295.6C368.7,295.9 370.8,293.5 372.6,292.8C374.4,292.1 376.3,291.2 378.0,291.2C379.7,291.2 381.4,292.2 383.0,293.0C384.6,293.8 386.6,295.0 387.9,296.1C389.1,297.2 389.1,299.1 390.5,299.6C391.9,300.2 394.0,299.5 396.0,299.4C398.0,299.3 400.5,298.7 402.5,299.1C404.5,299.5 406.2,302.2 408.0,301.8C409.8,301.4 411.4,297.3 413.0,296.4C414.6,295.5 416.1,297.0 417.8,296.4C419.5,295.8 421.7,292.6 423.3,292.5C424.9,292.4 425.9,294.9 427.2,295.8C428.5,296.7 429.4,297.9 431.0,298.0C432.6,298.1 434.7,296.3 436.5,296.4C438.3,296.5 440.1,298.9 441.9,298.5C443.7,298.1 445.6,294.3 447.4,294.2C449.2,294.1 450.8,297.8 452.9,298.0C455.0,298.2 457.8,294.9 460.0,295.3C462.2,295.7 463.6,299.5 466.0,300.3C468.4,301.1 472.1,299.7 474.7,300.0C477.2,300.3 479.1,301.6 481.3,301.9C483.5,302.2 485.6,302.1 487.8,301.9C490.0,301.7 492.6,300.7 494.4,300.8C496.2,300.9 497.3,301.4 498.8,302.4C500.3,303.4 501.6,306.3 503.2,306.8C504.8,307.3 506.8,305.8 508.6,305.2C510.4,304.6 512.3,303.4 514.1,303.5C515.9,303.6 517.8,305.8 519.6,305.7C521.4,305.6 523.1,303.0 525.0,303.0C526.9,303.0 529.0,305.3 531.0,305.5C533.0,305.7 535.0,303.9 537.0,304.0C539.0,304.1 541.0,306.0 543.0,306.0C545.0,306.0 547.0,303.7 549.0,304.0C551.0,304.3 553.0,307.8 555.0,308.0C557.0,308.2 559.0,305.0 561.0,305.0C563.0,305.0 565.0,308.1 567.0,308.0C569.0,307.9 571.0,304.7 573.0,304.5C575.0,304.3 577.0,306.9 579.0,307.0C581.0,307.1 583.0,304.9 585.0,305.0C587.0,305.1 589.0,307.4 591.0,307.5C593.0,307.6 595.0,305.7 597.0,305.5C599.0,305.3 601.3,306.4 603.0,306.5C604.7,306.6 605.6,306.3 607.0,305.8C608.4,305.3 609.7,303.7 611.2,303.6C612.7,303.6 614.4,304.9 616.0,305.5C617.6,306.1 618.9,306.8 621.0,307.4C623.1,308.0 625.8,309.0 628.5,309.2C631.2,309.4 634.6,308.7 637.0,308.6C639.4,308.5 640.8,308.7 643.0,308.6C645.2,308.5 647.8,308.1 650.0,308.0C652.2,307.9 654.0,308.1 656.0,308.0C658.0,307.9 660.6,307.7 662.0,307.4C663.4,307.1 663.5,305.9 664.5,306.1C665.5,306.3 666.4,308.0 668.0,308.6C669.6,309.2 672.6,310.1 674.4,309.9C676.2,309.7 677.3,307.9 679.0,307.4C680.7,306.9 683.6,306.9 684.5,306.8" fill="none" stroke="#000" stroke-width="1.5" stroke-dasharray="4.5,2.5" stroke-linejoin="round"/>
<path d="M48.5,313.6C57.1,313.6 83.1,313.6 100.0,313.6C116.9,313.6 136.7,313.6 150.0,313.6C163.3,313.6 170.2,314.1 180.0,313.5C189.8,312.9 202.8,310.8 208.7,310.0C214.6,309.2 213.2,308.8 215.5,308.7C217.8,308.6 220.1,309.6 222.3,309.4C224.6,309.2 226.9,308.2 229.0,307.4C231.1,306.6 232.6,305.0 234.7,304.6C236.8,304.2 239.4,305.0 241.5,305.3C243.6,305.6 245.2,306.9 247.0,306.7C248.8,306.5 251.1,304.9 252.4,304.0C253.7,303.1 253.6,302.2 255.0,301.5C256.4,300.8 259.2,300.8 261.0,300.0C262.8,299.2 264.2,297.2 266.0,296.5C267.8,295.8 269.9,295.4 272.0,295.8C274.1,296.2 276.7,300.5 278.5,299.1C280.3,297.7 281.7,290.4 282.8,287.2C283.9,284.0 284.2,282.4 285.0,280.1C285.8,277.8 286.9,275.5 287.8,273.5C288.7,271.5 289.1,269.7 290.5,268.1C291.9,266.6 294.4,264.3 296.0,264.2C297.6,264.1 299.2,266.1 300.4,267.5C301.6,268.9 302.3,272.9 303.2,272.8C304.1,272.7 305.0,269.4 305.9,266.8C306.8,264.2 307.8,259.2 308.6,257.0C309.4,254.8 310.1,253.9 310.8,253.7C311.5,253.5 312.2,254.1 313.0,255.9C313.8,257.7 314.8,261.8 315.7,264.7C316.6,267.6 317.7,271.1 318.5,273.4C319.3,275.7 319.9,277.9 320.7,278.5C321.4,279.1 322.1,277.7 323.0,277.0C323.9,276.3 324.8,274.6 326.1,274.5C327.4,274.4 329.5,276.1 331.0,276.6C332.5,277.1 333.6,276.8 335.1,277.4C336.6,278.0 338.5,279.1 339.9,280.3C341.3,281.5 342.4,283.4 343.7,284.6C345.0,285.8 346.2,287.1 347.5,287.5C348.8,287.9 350.0,287.6 351.3,287.0C352.6,286.4 353.9,285.1 355.2,284.1C356.5,283.2 357.6,280.8 359.0,281.3C360.4,281.9 362.1,286.6 363.8,287.4C365.5,288.2 367.5,286.2 369.3,286.3C371.1,286.4 373.1,287.7 374.7,287.9C376.3,288.1 377.6,288.3 379.1,287.4C380.6,286.5 382.0,282.6 383.5,282.4C385.0,282.2 386.6,285.1 387.9,286.3C389.1,287.5 389.8,288.4 391.0,289.5C392.2,290.6 393.5,293.2 394.9,293.1C396.3,293.1 397.8,290.4 399.2,289.2C400.6,288.0 401.8,285.9 403.1,286.0C404.4,286.1 405.6,288.2 406.9,289.8C408.2,291.4 409.4,294.9 410.7,295.8C412.0,296.7 413.4,294.8 414.8,295.3C416.2,295.9 417.5,298.0 418.9,299.1C420.3,300.2 421.6,302.0 423.3,301.8C425.0,301.6 427.0,299.0 428.8,298.0C430.6,297.0 432.5,296.1 434.3,295.9C436.1,295.7 438.0,297.2 439.8,297.0C441.6,296.8 443.4,294.8 445.2,294.7C447.0,294.6 449.1,296.3 450.7,296.4C452.3,296.5 453.2,295.2 455.0,295.3C456.8,295.4 459.4,297.0 461.6,297.0C463.8,297.0 465.9,295.9 468.1,295.3C470.3,294.8 472.7,292.9 474.7,293.7C476.7,294.5 478.4,299.8 480.2,300.3C482.0,300.9 483.9,297.0 485.7,297.0C487.5,297.0 489.4,299.7 491.1,300.3C492.8,300.9 494.4,300.3 496.0,300.8C497.6,301.3 499.2,303.9 501.0,303.5C502.8,303.1 504.9,299.8 506.5,298.6C508.1,297.4 509.4,295.8 510.8,296.4C512.2,296.9 513.5,300.4 515.2,301.9C516.9,303.4 519.2,305.1 520.9,305.2C522.6,305.3 523.8,302.6 525.3,302.4C526.8,302.2 528.2,304.0 530.0,304.0C531.8,304.0 534.0,302.3 536.0,302.5C538.0,302.7 540.0,304.9 542.0,305.0C544.0,305.1 546.0,302.8 548.0,303.0C550.0,303.2 552.0,306.3 554.0,306.5C556.0,306.7 558.0,303.8 560.0,304.0C562.0,304.2 564.0,307.5 566.0,307.5C568.0,307.5 570.0,304.2 572.0,304.0C574.0,303.8 576.0,306.1 578.0,306.0C580.0,305.9 582.0,303.3 584.0,303.5C586.0,303.7 588.0,306.6 590.0,307.0C592.0,307.4 594.0,306.0 596.0,306.0C598.0,306.0 600.1,306.9 602.0,306.8C603.9,306.7 605.7,305.5 607.4,305.5C609.1,305.5 610.5,306.7 612.4,306.8C614.3,306.9 616.5,305.9 618.6,306.1C620.7,306.3 622.5,307.6 624.8,308.0C627.1,308.4 629.4,308.6 632.3,308.6C635.2,308.6 638.7,308.0 642.0,308.0C645.3,308.0 649.1,308.5 652.0,308.6C654.9,308.7 657.0,308.7 659.5,308.6C662.0,308.5 664.5,308.0 667.0,308.0C669.5,308.0 671.5,308.5 674.4,308.6C677.3,308.7 682.8,308.6 684.5,308.6" fill="none" stroke="#000" stroke-width="1.5" stroke-dasharray="6,2.2,1.5,2.2" stroke-linejoin="round"/>
</g>
<rect x="48.5" y="180.0" width="635.8" height="140.0" fill="none" stroke="#000" stroke-width="1"/>
<line x1="44.5" y1="314.2" x2="48.5" y2="314.2" stroke="#000" stroke-width="1"/>
<text x="39.6" y="318.5" font-size="11.6" text-anchor="end" fill="#1a1a1a" textLength="17.6" lengthAdjust="spacingAndGlyphs" stroke="#1a1a1a" stroke-width="0.15">0.0</text>
<line x1="44.5" y1="293.3" x2="48.5" y2="293.3" stroke="#000" stroke-width="1"/>
<text x="39.6" y="297.6" font-size="11.6" text-anchor="end" fill="#1a1a1a" textLength="17.6" lengthAdjust="spacingAndGlyphs" stroke="#1a1a1a" stroke-width="0.15">0.6</text>
<line x1="44.5" y1="272.3" x2="48.5" y2="272.3" stroke="#000" stroke-width="1"/>
<text x="39.6" y="276.6" font-size="11.6" text-anchor="end" fill="#1a1a1a" textLength="17.6" lengthAdjust="spacingAndGlyphs" stroke="#1a1a1a" stroke-width="0.15">1.2</text>
<line x1="44.5" y1="251.4" x2="48.5" y2="251.4" stroke="#000" stroke-width="1"/>
<text x="39.6" y="255.7" font-size="11.6" text-anchor="end" fill="#1a1a1a" textLength="17.6" lengthAdjust="spacingAndGlyphs" stroke="#1a1a1a" stroke-width="0.15">1.8</text>
<line x1="44.5" y1="230.5" x2="48.5" y2="230.5" stroke="#000" stroke-width="1"/>
<text x="39.6" y="234.8" font-size="11.6" text-anchor="end" fill="#1a1a1a" textLength="17.6" lengthAdjust="spacingAndGlyphs" stroke="#1a1a1a" stroke-width="0.15">2.4</text>
<line x1="44.5" y1="209.5" x2="48.5" y2="209.5" stroke="#000" stroke-width="1"/>
<text x="39.6" y="213.8" font-size="11.6" text-anchor="end" fill="#1a1a1a" textLength="17.6" lengthAdjust="spacingAndGlyphs" stroke="#1a1a1a" stroke-width="0.15">3.0</text>
<line x1="44.5" y1="188.6" x2="48.5" y2="188.6" stroke="#000" stroke-width="1"/>
<text x="39.6" y="192.9" font-size="11.6" text-anchor="end" fill="#1a1a1a" textLength="17.6" lengthAdjust="spacingAndGlyphs" stroke="#1a1a1a" stroke-width="0.15">3.6</text>
<line x1="48.5" y1="320.0" x2="48.5" y2="324.5" stroke="#000" stroke-width="1"/>
<line x1="189.7" y1="320.0" x2="189.7" y2="324.5" stroke="#000" stroke-width="1"/>
<line x1="331.4" y1="320.0" x2="331.4" y2="324.5" stroke="#000" stroke-width="1"/>
<line x1="472.5" y1="320.0" x2="472.5" y2="324.5" stroke="#000" stroke-width="1"/>
<line x1="613.4" y1="320.0" x2="613.4" y2="324.5" stroke="#000" stroke-width="1"/>
<text x="46.8" y="336.9" font-size="11.6" text-anchor="middle" fill="#1a1a1a" textLength="19.6" lengthAdjust="spacingAndGlyphs" stroke="#1a1a1a" stroke-width="0.15">-10</text>
<text x="189.9" y="336.9" font-size="11.6" text-anchor="middle" fill="#1a1a1a" textLength="7.8" lengthAdjust="spacingAndGlyphs" stroke="#1a1a1a" stroke-width="0.15">0</text>
<text x="331.2" y="336.9" font-size="11.6" text-anchor="middle" fill="#1a1a1a" textLength="13.8" lengthAdjust="spacingAndGlyphs" stroke="#1a1a1a" stroke-width="0.15">10</text>
<text x="472.1" y="336.9" font-size="11.6" text-anchor="middle" fill="#1a1a1a" textLength="13.8" lengthAdjust="spacingAndGlyphs" stroke="#1a1a1a" stroke-width="0.15">20</text>
<text x="613.3" y="336.9" font-size="11.6" text-anchor="middle" fill="#1a1a1a" textLength="13.8" lengthAdjust="spacingAndGlyphs" stroke="#1a1a1a" stroke-width="0.15">30</text>
<rect x="58.1" y="183.6" width="55.0" height="17" rx="3" ry="3" fill="#fff" stroke="#111" stroke-width="1.2"/>
<text x="62.0" y="195.9" font-size="11.5" text-anchor="start" fill="#000" textLength="47.6" lengthAdjust="spacingAndGlyphs" stroke="#000" stroke-width="0.2">.V.SFT..U</text>
<text x="463.0" y="227.4" font-size="18.7" text-anchor="start" fill="#000" textLength="92.5" lengthAdjust="spacingAndGlyphs">peak-ratio</text>
<text x="562.6" y="227.4" font-size="18.7" text-anchor="start" fill="#000" textLength="13.2" lengthAdjust="spacingAndGlyphs">=</text>
<text x="582.6" y="227.4" font-size="18.7" text-anchor="start" fill="#000" textLength="64.0" lengthAdjust="spacingAndGlyphs">0.2941</text>
<line x1="120.3" y1="26.4" x2="136.9" y2="25.3" stroke="#ff8080" stroke-width="1"/>
<line x1="120.7" y1="50.3" x2="137.1" y2="50.1" stroke="#7070ff" stroke-width="1"/>
<line x1="120.5" y1="70.4" x2="137.1" y2="70.4" stroke="#444" stroke-width="0.9" stroke-dasharray="2.3,1.4"/>
<line x1="120.7" y1="90.5" x2="137.1" y2="90.5" stroke="#555" stroke-width="1" stroke-dasharray="4,1.8,1.2,1.8"/>
<text x="145.0" y="21.8" font-size="12.4" text-anchor="start" fill="#222" textLength="70.8" lengthAdjust="spacingAndGlyphs">3Component</text>
<text x="145.0" y="38.0" font-size="12.4" text-anchor="start" fill="#222" textLength="24.6" lengthAdjust="spacingAndGlyphs">Sum</text>
<text x="145.0" y="54.0" font-size="12.4" text-anchor="start" fill="#222" textLength="59.0" lengthAdjust="spacingAndGlyphs">Transverse</text>
<text x="145.0" y="74.3" font-size="12.4" text-anchor="start" fill="#222" textLength="42.3" lengthAdjust="spacingAndGlyphs">Vertical</text>
<text x="145.3" y="94.9" font-size="12.4" text-anchor="start" fill="#222" textLength="34.0" lengthAdjust="spacingAndGlyphs">Radial</text>
<g font-family='"Liberation Serif", serif' font-style="italic" fill="#ff2020" fill-opacity="0.8">
<text x="312.2" y="15.8" font-size="16.5" stroke="#ff2020" stroke-width="0.25">I</text>
<text x="318.3" y="10.0" font-size="10" textLength="20.5" lengthAdjust="spacingAndGlyphs">peak</text>
<text x="318.0" y="19.8" font-size="10" textLength="18.7" lengthAdjust="spacingAndGlyphs">sum</text>
</g>
<path d="M314.7,4.7L316.4,2.7L318.1,4.7" fill="none" stroke="#ff2020" stroke-opacity="0.8" stroke-width="0.9"/>
<g font-family='"Liberation Serif", serif' font-style="italic" fill="#2020ff" fill-opacity="0.8">
<text x="386.8" y="93.5" font-size="16.5" stroke="#2020ff" stroke-width="0.25">I</text>
<text x="393.7" y="86.0" font-size="10" textLength="20.4" lengthAdjust="spacingAndGlyphs">peak</text>
<text x="392.6" y="97.5" font-size="11">T</text>
</g>
<path d="M389.0,81.7L390.7,79.7L392.4,81.7" fill="none" stroke="#2020ff" stroke-opacity="0.8" stroke-width="0.9"/>
<text transform="translate(10.9,207.6) rotate(-90)" font-size="14" fill="#1a1a1a" textLength="102.5" lengthAdjust="spacingAndGlyphs">MS Amplitude</text>
<text x="236.6" y="362.8" font-size="14.0" text-anchor="start" fill="#1a1a1a" textLength="290.0" lengthAdjust="spacingAndGlyphs">Time after theoretical P wave arrival (s)</text>
</svg>
</body></html>
